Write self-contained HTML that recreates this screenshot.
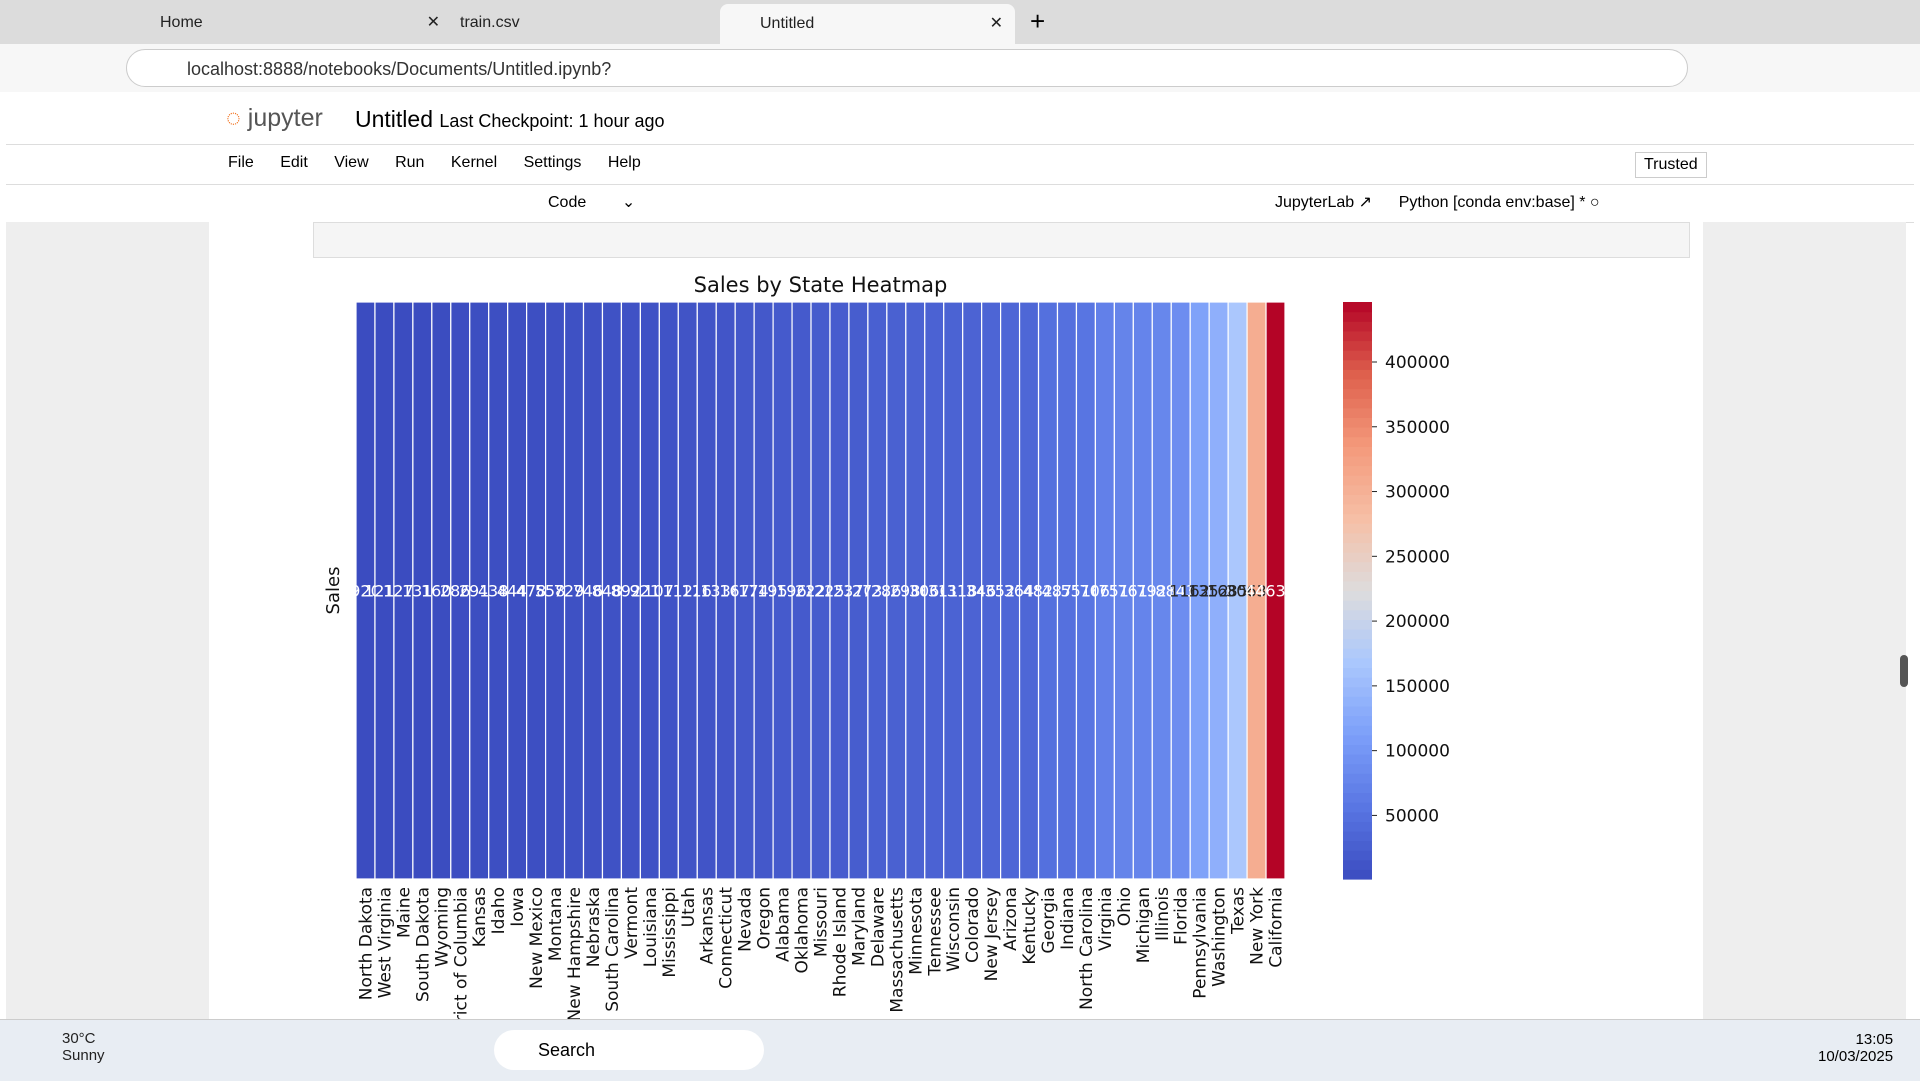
<!DOCTYPE html>
<html><head><meta charset="utf-8"><style>
body{margin:0;width:1920px;height:1080px;overflow:hidden;font-family:"Liberation Sans",sans-serif;background:#fff;position:relative}
.abs{position:absolute}
#chart text{font-family:"DejaVu Sans",sans-serif}
</style></head><body>
<div class="abs" style="left:0;top:0;width:1920px;height:44px;background:#dcdcdc"></div>
<div class="abs" style="left:125px;top:6px;width:290px;height:34px;font-size:16px;line-height:34px;padding-left:35px;color:#222">Home<span style="position:absolute;right:10px">✕</span></div>
<div class="abs" style="left:420px;top:6px;width:290px;height:34px;font-size:16px;line-height:34px;padding-left:40px;color:#222">train.csv<span style="position:absolute;right:10px">✕</span></div>
<div class="abs" style="left:720px;top:4px;width:295px;height:40px;background:#f7f7f7;border-radius:8px 8px 0 0;font-size:16px;line-height:40px;padding-left:40px;box-sizing:border-box;color:#222">Untitled<span style="position:absolute;right:12px">✕</span></div>
<div class="abs" style="left:1030px;top:6px;font-size:26px">+</div>
<div class="abs" style="left:0;top:44px;width:1920px;height:48px;background:#f7f7f7"></div>
<div class="abs" style="left:126px;top:49px;width:1562px;height:38px;border:1px solid #ccc;border-radius:19px;background:#fff;font-size:18px;line-height:38px;padding-left:60px;box-sizing:border-box;color:#333">localhost:8888/notebooks/Documents/Untitled.ipynb?</div>
<div class="abs" style="left:6px;top:96px;width:1908px;height:48px;background:#fff;border-bottom:1px solid #ddd"></div>
<div class="abs" style="left:226px;top:104px;font-size:25px;color:#555"><span style="color:#f37726">◌</span> jupyter</div>
<div class="abs" style="left:355px;top:106px;font-size:23px;color:#000">Untitled <span style="font-size:18px">Last Checkpoint: 1 hour ago</span></div>
<div class="abs" style="left:228px;top:154px;font-size:16px;word-spacing:22px;color:#000">File Edit View Run Kernel Settings Help</div>
<div class="abs" style="left:1635px;top:152px;border:1px solid #ccc;padding:3px 8px;font-size:16px">Trusted</div>
<div class="abs" style="left:6px;top:184px;width:1908px;height:37px;border-top:1px solid #ddd;border-bottom:1px solid #ddd;background:#fff"></div>
<div class="abs" style="left:548px;top:192px;font-size:16px">Code &nbsp;&nbsp;&nbsp;&nbsp;&nbsp;&nbsp;&nbsp;⌄</div>
<div class="abs" style="left:1275px;top:192px;font-size:16px">JupyterLab ↗ &nbsp;&nbsp;&nbsp;&nbsp;&nbsp;Python [conda env:base] * ○</div>
<div class="abs" style="left:6px;top:222px;width:1900px;height:797px;background:#eee"></div>
<div class="abs" style="left:209px;top:222px;width:1494px;height:797px;background:#fff"></div>
<div class="abs" style="left:313px;top:222px;width:1377px;height:36px;background:#f5f5f5;border:1px solid #ddd;box-sizing:border-box"></div>
<div class="abs" style="left:1900px;top:655px;width:8px;height:32px;background:#555;border-radius:4px"></div>
<svg class="abs" style="left:0;top:0" width="1920" height="1019" id="chart"></svg>
<div class="abs" style="left:0;top:1019px;width:1920px;height:61px;background:#e8edf3;border-top:1px solid #ccc"></div>
<div class="abs" style="left:62px;top:1030px;font-size:15px;color:#222">30°C<br>Sunny</div>
<div class="abs" style="left:494px;top:1030px;width:270px;height:40px;border-radius:20px;background:#fff;font-size:18px;line-height:40px;padding-left:44px;box-sizing:border-box">Search</div>
<div class="abs" style="left:1818px;top:1031px;font-size:15px;text-align:right">13:05<br>10/03/2025</div>
<script>
const states=["North Dakota","West Virginia","Maine","South Dakota","Wyoming","District of Columbia","Kansas","Idaho","Iowa","New Mexico","Montana","New Hampshire","Nebraska","South Carolina","Vermont","Louisiana","Mississippi","Utah","Arkansas","Connecticut","Nevada","Oregon","Alabama","Oklahoma","Missouri","Rhode Island","Maryland","Delaware","Massachusetts","Minnesota","Tennessee","Wisconsin","Colorado","New Jersey","Arizona","Kentucky","Georgia","Indiana","North Carolina","Virginia","Ohio","Michigan","Illinois","Florida","Pennsylvania","Washington","Texas","New York","California"];
const sales=[920,1210,1271,1316,1604,2865,2914,4382,4443,4784,5589,7293,7465,8482,8929,9217,10771,11220,11678,13385,16729,17431,19511,19683,22205,22525,23706,27323,28634,29863,30662,31174,31841,34611,35272,36458,48220,48719,55166,70637,75130,76136,79236,88437,116276,135206,168572,306361,446306];
const cbTicks=[50000,100000,150000,200000,250000,300000,350000,400000];
const NS="http://www.w3.org/2000/svg",svg=document.getElementById('chart');
const X0=356,X1=1285,Y0=302,Y1=879,CB0=1343,CB1=1372;
const vmin=Math.min(...sales),vmax=Math.max(...sales);
const stops=[[59,76,192],[89,118,227],[124,159,249],[170,199,253],[221,220,221],[246,191,166],[244,154,123],[222,96,77],[180,4,38]];
function cmap(t){t=Math.max(0,Math.min(1,t));const p=t*8,i=Math.min(7,Math.floor(p)),f=p-i,a=stops[i],b=stops[i+1];return 'rgb('+a.map((v,k)=>Math.round(v+(b[k]-v)*f)).join(',')+')';}
function norm(v){return (v-vmin)/(vmax-vmin);}
const cw=(X1-X0)/states.length;
function xs(i){return X0+i*cw;}
function cy(v){return Y1-norm(v)*(Y1-Y0);}
function el(t,a,txt){const e=document.createElementNS(NS,t);for(const k in a)e.setAttribute(k,a[k]);if(txt!==undefined)e.textContent=txt;svg.appendChild(e);return e;}
let t=el('text',{x:(X0+X1)/2,y:292,'text-anchor':'middle','font-size':21,fill:'#111'},'Sales by State Heatmap');


t=el('text',{x:0,y:0,'text-anchor':'middle','font-size':18,fill:'#111',transform:`translate(339,${(Y0+Y1)/2}) rotate(-90)`},'Sales');


states.forEach((s,i)=>{
 const r=el('rect',{x:xs(i),y:Y0,width:cw,height:Y1-Y0,fill:cmap(norm(sales[i])),stroke:'#fff','stroke-width':1.2});
 
 
 const n=norm(sales[i]);
 const a=el('text',{x:xs(i)+cw/2,y:(Y0+Y1)/2+6,'text-anchor':'middle','font-size':16,fill:(n>0.2&&n<0.8)?'#262626':'#fff'},sales[i].toFixed(0));
 
 
 const l=el('text',{x:0,y:0,'text-anchor':'end','font-size':17,fill:'#111',transform:`translate(${xs(i)+cw/2+6},${Y1+8}) rotate(-90)`},s);
 
 
});
const N=60;for(let k=0;k<N;k++){const r=el('rect',{x:CB0,y:Y1-(k+1)*(Y1-Y0)/N,width:CB1-CB0,height:(Y1-Y0)/N+0.6,fill:cmap((k+0.5)/N)});

}
cbTicks.forEach(v=>{const y=cy(v);el('line',{x1:CB1,x2:CB1+5,y1:y,y2:y,stroke:'#222'});
 const tt=el('text',{x:CB1+13,y:y+6,'font-size':17,fill:'#111'},String(v));
 
 });
</script>
</body></html>
